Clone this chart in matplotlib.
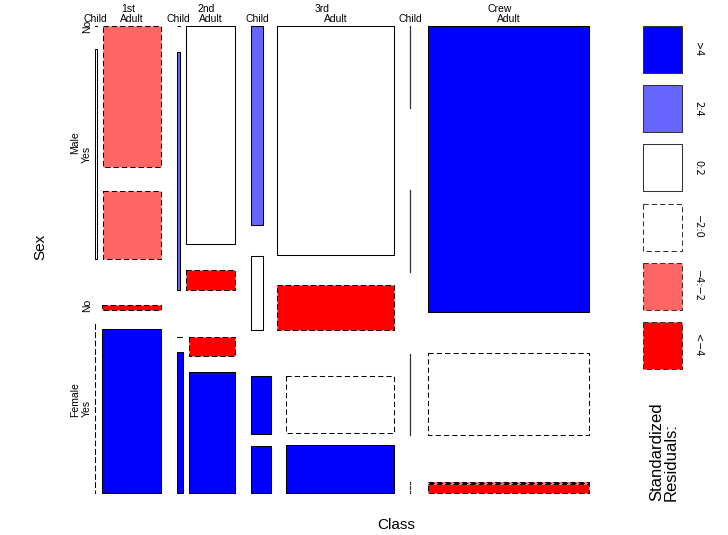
import numpy as np
import matplotlib.pyplot as plt
from matplotlib.patches import Rectangle

plt.rcParams['font.family'] = ['Liberation Sans', 'DejaVu Sans']

# Titanic counts, per class: [male, female]
classes = ["1st", "2nd", "3rd", "Crew"]
sexes = ["Male", "Female"]
ages = ["Child", "Adult"]
survived = ["No", "Yes"]

child_no = [[0, 0], [0, 0], [35, 17], [0, 0]]
child_yes = [[5, 1], [11, 13], [13, 14], [0, 0]]
adult_no = [[118, 4], [154, 13], [387, 89], [670, 3]]
adult_yes = [[57, 140], [14, 80], [75, 76], [192, 20]]

legend_labels = [">4", "2:4", "0:2", "\u22122:0", "\u22124:\u22122", "<\u22124"]

# table indexed [class, sex, age, survived]
tab = np.zeros((4, 2, 2, 2))
tab[:, :, 0, 0] = child_no
tab[:, :, 0, 1] = child_yes
tab[:, :, 1, 0] = adult_no
tab[:, :, 1, 1] = adult_yes

# pearson residuals under complete independence
n = tab.sum()
m = [tab.sum(axis=tuple(j for j in range(4) if j != i)) / n for i in range(4)]
expected = n * np.einsum('i,j,k,l->ijkl', *m)
resid = (tab - expected) / np.sqrt(expected)

breaks = [-np.inf, -4, -2, 0, 2, 4, np.inf]
fills = ["#ff0000", "#ff6666", "#ffffff", "#ffffff", "#6666ff", "#0000ff"]

dirs = ["v", "h", "v", "h"]
names = [classes, sexes, ages, survived]
off = 0.1
xlab_y = {2: 9, 1: 19}
ylab_x = {2: 75, 1: 87}
dash = (0, (5, 3))
lab_size = 7.5

fig = plt.figure(figsize=(7.28, 5.35), dpi=100)
ax = fig.add_axes([0, 0, 1, 1])
ax.set_xlim(0, 728)
ax.set_ylim(535, 0)
ax.axis("off")


def split(lo, hi, props):
    white = off * (hi - lo) / max(1, len(props) - 1)
    out = []
    start = lo
    for p in props:
        end = start + (1 - off) * p * (hi - lo)
        out.append((start, end))
        start = end + white
    return out


def box(x0, y0, x1, y1, r):
    k = np.searchsorted(breaks, r) - 1
    ls = "-" if r >= 0 else dash
    ax.add_patch(Rectangle((x0, y0), x1 - x0, y1 - y0, facecolor=fills[k],
                           edgecolor="black", lw=0.75, linestyle=ls))


def cell(sub, res, x0, y0, x1, y1, d, labx, laby):
    tot = sub.reshape(sub.shape[0], -1).sum(axis=1)
    props = tot / tot.sum()
    if dirs[d] == "v":
        parts = split(x0, x1, props)
        if labx > 0:
            for (a, b), s in zip(parts, names[d]):
                ax.text((a + b) / 2, xlab_y[labx], s, ha="center", va="center",
                        fontsize=lab_size)
    else:
        parts = split(y0, y1, props)
        if laby > 0:
            for (a, b), s in zip(parts, names[d]):
                ax.text(ylab_x[laby], (a + b) / 2, s, ha="center", va="center",
                        fontsize=lab_size, rotation=90)
    for i, (a, b) in enumerate(parts):
        if dirs[d] == "v":
            cx0, cx1, cy0, cy1 = a, b, y0, y1
            nlx, nly = labx - 1, (i == 0) * laby
        else:
            cx0, cx1, cy0, cy1 = x0, x1, a, b
            nlx, nly = (i == 0) * labx, laby - 1
        if d == len(dirs) - 1:
            box(cx0, cy0, cx1, cy1, res[i])
        elif props[i] > 0:
            cell(sub[i], res[i], cx0, cy0, cx1, cy1, d + 1, nlx, nly)
        else:
            # empty cell: three short segments
            if dirs[d] == "v":
                h = cy1 - cy0
                for f0, f1 in [(0, 0.2), (0.4, 0.6), (0.8, 1.0)]:
                    ax.plot([cx0, cx0], [cy1 - h * f0, cy1 - h * f1], color="#333333", lw=0.9)
            else:
                w = cx1 - cx0
                for f0, f1 in [(0, 0.2), (0.4, 0.6), (0.8, 1.0)]:
                    ax.plot([cx0 + w * f0, cx0 + w * f1], [cy0, cy0], color="#333333", lw=0.9)


cell(tab, resid, 95, 26, 589, 493, 0, 2, 2)

# legend
for i, lab in enumerate(legend_labels):
    top = 26 + i * 59.2
    k = 5 - i
    ls = "-" if k >= 3 else dash
    ax.add_patch(Rectangle((643, top), 39, 47, facecolor=fills[k],
                           edgecolor="#333333", lw=0.75, linestyle=ls))
    ax.text(698, top + 23.5, lab, rotation=270, ha="center", va="center",
            fontsize=7, family=["DejaVu Sans"])

ax.text(664, 501, "Standardized\nResiduals:", rotation=90, ha="center", va="bottom",
        fontsize=12, multialignment="left", linespacing=1.0)
ax.text(396, 525, "Class", ha="center", va="center", fontsize=11)
ax.text(40, 247, "Sex", ha="center", va="center", fontsize=11, rotation=90)

fig.savefig("out.png", dpi=100)
